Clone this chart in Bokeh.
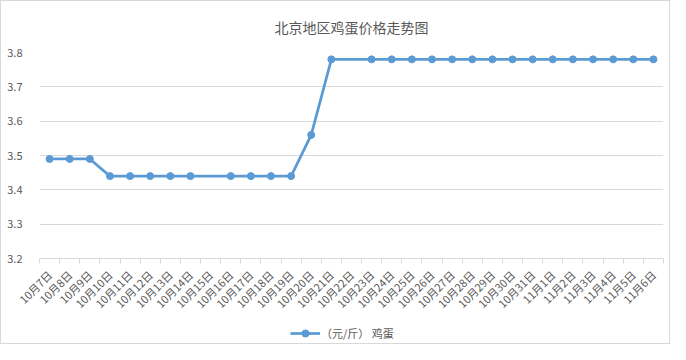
import math
from bokeh.plotting import figure
from bokeh.layouts import column
from bokeh.models import FixedTicker, Legend, LegendItem, NumeralTickFormatter, Range1d
from bokeh.embed import file_html
from bokeh.resources import INLINE

# ---- data ----
dates = ["10月7日", "10月8日", "10月9日", "10月10日", "10月11日", "10月12日",
         "10月13日", "10月14日", "10月15日", "10月16日", "10月17日", "10月18日",
         "10月19日", "10月20日", "10月21日", "10月22日", "10月23日", "10月24日",
         "10月25日", "10月26日", "10月27日", "10月28日", "10月29日", "10月30日",
         "10月31日", "11月1日", "11月2日", "11月3日", "11月4日", "11月5日", "11月6日"]
price = [3.49, 3.49, 3.49, 3.44, 3.44, 3.44, 3.44, 3.44, None, 3.44, 3.44, 3.44,
         3.44, 3.56, 3.78, None, 3.78, 3.78, 3.78, 3.78, 3.78, 3.78, 3.78, 3.78,
         3.78, 3.78, 3.78, 3.78, 3.78, 3.78, 3.78]
y_ticks = [3.2, 3.3, 3.4, 3.5, 3.6, 3.7, 3.8]
series_name = "（元/斤） 鸡蛋"
title_text = "北京地区鸡蛋价格走势图"

FONT = "Noto Sans CJK SC"
TXT = "#595959"
GRID = "#d9d9d9"
BLUE = "#5b9bd5"

xs = [i + 0.5 for i in range(len(dates))]
pts_x = [x for x, v in zip(xs, price) if v is not None]
pts_y = [v for v in price if v is not None]

p = figure(width=668, height=318, output_backend="svg", toolbar_location=None,
           x_range=(0, len(dates)), y_range=(y_ticks[0], y_ticks[-1]),
           min_border_left=38, min_border_right=6, min_border_top=51,
           min_border_bottom=55)

p.title.text = title_text
p.title.align = "center"
p.title.vertical_align = "top"
p.title.text_font = FONT
p.title.text_font_size = "14px"
p.title.text_font_style = "normal"
p.title.text_color = TXT
p.title.standoff = 28

p.outline_line_color = None
p.xgrid.grid_line_color = None
p.ygrid.grid_line_color = GRID

# x axis
p.xaxis.ticker = FixedTicker(ticks=xs, minor_ticks=list(range(len(dates) + 1)))
p.xaxis.major_label_overrides = {x: d for x, d in zip(xs, dates)}
p.xaxis.major_tick_line_color = None
p.xaxis.major_tick_out = 0
p.xaxis.major_tick_in = 0
p.xaxis.minor_tick_line_color = GRID
p.xaxis.minor_tick_out = 5
p.xaxis.minor_tick_in = 0
p.xaxis.axis_line_color = GRID
p.xaxis.major_label_orientation = math.pi / 4
p.xaxis.major_label_text_font = FONT
p.xaxis.major_label_text_font_size = "11px"
p.xaxis.major_label_text_color = TXT
p.xaxis.major_label_standoff = 9

# y axis
p.yaxis.ticker = FixedTicker(ticks=y_ticks)
p.yaxis.formatter = NumeralTickFormatter(format="0.0")
p.yaxis.axis_line_color = None
p.yaxis.major_tick_line_color = None
p.yaxis.minor_tick_line_color = None
p.yaxis.major_label_text_font = FONT
p.yaxis.major_label_text_font_size = "11px"
p.yaxis.major_label_text_color = TXT
p.yaxis.major_label_standoff = 11

p.line(pts_x, pts_y, line_color=BLUE, line_width=2.75)
p.scatter(pts_x, pts_y, size=7, fill_color=BLUE, line_color=BLUE)

# legend strip (separate small figure under the chart); its own copy of the
# series lies outside its visible range, only the legend entry shows
lg = figure(width=668, height=24, output_backend="svg", toolbar_location=None,
            min_border=0, x_axis_type=None, y_axis_type=None,
            x_range=Range1d(-2, -1), y_range=Range1d(0, 1))
lg.outline_line_color = None
lg.grid.visible = False
l1 = lg.line(pts_x, pts_y, line_color=BLUE, line_width=2.75)
l2 = lg.scatter(pts_x, pts_y, size=7, fill_color=BLUE, line_color=BLUE)
legend = Legend(items=[LegendItem(label=series_name, renderers=[l1, l2])],
                location=(251, 1), orientation="horizontal",
                border_line_color=None, background_fill_alpha=0,
                label_text_font=FONT, label_text_font_size="11px",
                label_text_color=TXT, glyph_width=30, glyph_height=18,
                label_standoff=1, margin=0, padding=2)
lg.add_layout(legend, "center")

layout = column(p, lg, spacing=0, styles={"border": "1px solid #d9d9d9"})

open("out.html", "w").write(file_html(layout, INLINE))
